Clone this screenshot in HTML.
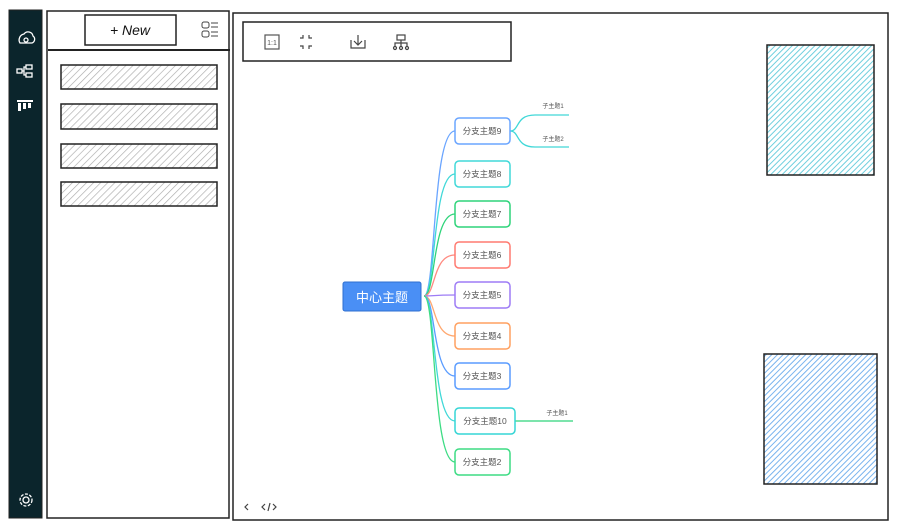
<!DOCTYPE html>
<html><head><meta charset="utf-8"><style>
html,body{margin:0;padding:0;background:#fff;width:899px;height:529px;overflow:hidden}
svg{display:block}
text{font-family:"Liberation Sans","Noto Sans CJK SC",sans-serif}
</style></head><body>
<svg width="899" height="529" viewBox="0 0 899 529" xmlns="http://www.w3.org/2000/svg">
<defs>
<pattern id="hg" width="5" height="5" patternUnits="userSpaceOnUse" patternTransform="rotate(45)"><line x1="0" y1="0" x2="0" y2="5" stroke="#aaa" stroke-width="1.3"/></pattern>
<pattern id="hc" width="4" height="4" patternUnits="userSpaceOnUse" patternTransform="rotate(45)"><line x1="0" y1="0" x2="0" y2="4" stroke="#6fcfde" stroke-width="2"/></pattern>
<pattern id="hb" width="4" height="4" patternUnits="userSpaceOnUse" patternTransform="rotate(45)"><line x1="0" y1="0" x2="0" y2="4" stroke="#78b3ee" stroke-width="2"/></pattern>
</defs>
<rect x="9" y="10" width="33" height="508" fill="#0b252c" stroke="#222" stroke-width="1"/>
<g fill="none" stroke="#fff" stroke-width="1.3">
<path d="M20 43 a6 6 0 0 1 4-9 a5 5 0 0 1 9 2 a4 4 0 0 1 -1 7 z"/>
<circle cx="26" cy="40" r="2"/>
<rect x="17" y="69" width="5" height="4"/><rect x="26" y="65" width="6" height="4"/><rect x="26" y="73" width="6" height="4"/>
<path d="M22 71h2v-4h2M24 71v4h2"/>
<circle cx="26" cy="500" r="3"/><circle cx="26" cy="500" r="6" stroke-dasharray="3 1.5"/>
</g>
<g fill="#fff"><rect x="17" y="100" width="16" height="2"/><rect x="18" y="103" width="3" height="8"/><rect x="23" y="103" width="3" height="6"/><rect x="28" y="103" width="3" height="5"/></g>
<rect x="47" y="11" width="182" height="507" fill="#fff" stroke="#222" stroke-width="1.5"/>
<line x1="48" y1="50" x2="230" y2="50" stroke="#222" stroke-width="2"/>
<rect x="85" y="15" width="91" height="30" fill="#fff" stroke="#222" stroke-width="1.5"/>
<text x="130" y="35" text-anchor="middle" font-size="14" font-style="italic" fill="#111">+ New</text>
<g fill="none" stroke="#444" stroke-width="1"><rect x="202" y="22" width="7" height="6" rx="2"/><rect x="202" y="31" width="7" height="6" rx="2"/><path d="M211 23h7M211 27h7M211 32h7M211 36h7"/></g>
<g stroke="#222" stroke-width="1.5">
<rect x="61" y="65" width="156" height="24" fill="url(#hg)"/>
<rect x="61" y="104" width="156" height="25" fill="url(#hg)"/>
<rect x="61" y="144" width="156" height="24" fill="url(#hg)"/>
<rect x="61" y="182" width="156" height="24" fill="url(#hg)"/>
</g>
<rect x="233" y="13" width="655" height="507" fill="#fff" stroke="#222" stroke-width="1.5"/>
<rect x="243" y="22" width="268" height="39" fill="#fff" stroke="#222" stroke-width="1.5"/>
<rect x="265" y="35" width="14" height="14" fill="none" stroke="#555" stroke-width="1.2"/>
<text x="272" y="45" text-anchor="middle" font-size="7" fill="#555">1:1</text>
<g fill="none" stroke="#444" stroke-width="1.2">
<path d="M303 35v3h-3M309 35v3h3M303 49v-3h-3M309 49v-3h3"/>
<path d="M351 40v8h14v-8M358 35v9M354 41l4 4 4-4"/>
<rect x="397" y="35" width="8" height="5"/><path d="M401 40v3M395 46v-3h12v3M401 43v3"/><circle cx="395" cy="48" r="1.5"/><circle cx="401" cy="48" r="1.5"/><circle cx="407" cy="48" r="1.5"/>
<path d="M248 504l-3 3 3 3M265 504l-3 3 3 3M273 504l3 3-3 3M270 503l-2 8"/>
</g>
<rect x="767" y="45" width="107" height="130" fill="url(#hc)" stroke="#222" stroke-width="1.5"/>
<rect x="764" y="354" width="113" height="130" fill="url(#hb)" stroke="#222" stroke-width="1.5"/>
<g fill="none" stroke-width="1.3">
<path d="M424 296 C436 296 432 131 455 131" stroke="#6aa5ff"/>
<path d="M424 296 C436 296 432 174 455 174" stroke="#40d8d8"/>
<path d="M424 296 C436 296 432 214 455 214" stroke="#2ed47a"/>
<path d="M424 296 C436 296 432 255 455 255" stroke="#ff8a80"/>
<path d="M424 296 C436 296 432 295 455 295" stroke="#9d7cf5"/>
<path d="M424 296 C436 296 432 336 455 336" stroke="#ffa870"/>
<path d="M424 296 C436 296 432 376 455 376" stroke="#5a9cff"/>
<path d="M424 296 C436 296 432 421 455 421" stroke="#40d8d8"/>
<path d="M424 296 C436 296 432 462 455 462" stroke="#3ddc84"/>
<path d="M510 131 C520 131 515 115 535 115 H569" stroke="#40d8d8"/>
<path d="M510 131 C520 131 515 147 535 147 H569" stroke="#40d8d8"/>
<path d="M515 421 H573" stroke="#2ed47a"/>
</g>
<rect x="343" y="282" width="78" height="29" rx="2" fill="#4a8ff5" stroke="#2f6fd0"/>
<text x="382" y="302" text-anchor="middle" font-size="13" fill="#fff">中心主题</text>
<g fill="#fff" stroke-width="1.5" font-size="9">
<rect x="455" y="118" width="55" height="26" rx="4" stroke="#6aa5ff"/>
<rect x="455" y="161" width="55" height="26" rx="4" stroke="#40d8d8"/>
<rect x="455" y="201" width="55" height="26" rx="4" stroke="#2ed47a"/>
<rect x="455" y="242" width="55" height="26" rx="4" stroke="#ff7a70"/>
<rect x="455" y="282" width="55" height="26" rx="4" stroke="#9d7cf5"/>
<rect x="455" y="323" width="55" height="26" rx="4" stroke="#ffa060"/>
<rect x="455" y="363" width="55" height="26" rx="4" stroke="#5a9cff"/>
<rect x="455" y="408" width="60" height="26" rx="4" stroke="#35d5d5"/>
<rect x="455" y="449" width="55" height="26" rx="4" stroke="#3ddc84"/>
</g>
<g font-size="8.5" fill="#555" text-anchor="middle">
<text x="482" y="134">分支主题9</text>
<text x="482" y="177">分支主题8</text>
<text x="482" y="217">分支主题7</text>
<text x="482" y="258">分支主题6</text>
<text x="482" y="298">分支主题5</text>
<text x="482" y="339">分支主题4</text>
<text x="482" y="379">分支主题3</text>
<text x="485" y="424">分支主题10</text>
<text x="482" y="465">分支主题2</text>
</g>
<g font-size="6" fill="#555" text-anchor="middle">
<text x="553" y="108">子主题1</text>
<text x="553" y="141">子主题2</text>
<text x="557" y="415">子主题1</text>
</g>
</svg>
</body></html>
